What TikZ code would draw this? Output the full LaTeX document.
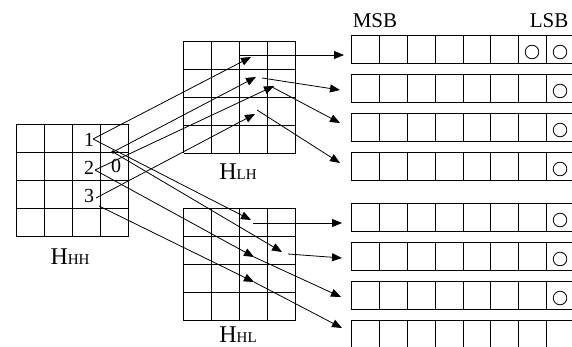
\documentclass[tikz,border=0pt]{standalone}
\usepackage{fontspec}
\setmainfont{Liberation Serif}
\usetikzlibrary{arrows.meta}

\tikzset{
  gridline/.style={line width=1.1pt, black},
  link/.style={line width=0.8pt, black, -{Triangle[length=10pt,width=8pt]}},
  bitbox/.style={draw, line width=1.1pt, minimum width=224pt, minimum height=28pt,
                 inner sep=0pt, outer sep=0pt, anchor=north west},
  coeff/.style={font=\fontsize{20}{20}\selectfont, inner sep=0pt, anchor=base},
  bandlabel/.style={inner sep=0pt, anchor=base},
  endlabel/.style={font=\fontsize{21}{21}\selectfont, inner sep=0pt, anchor=base},
}

% band name: large H with two smaller capitals
\newcommand{\bandname}[2]{{\fontsize{24}{24}\selectfont H}{\fontsize{15}{15}\selectfont #1#2}}

\begin{document}
\begin{tikzpicture}[x=1pt, y=-1pt]
\useasboundingbox (0,0) rectangle (572,347);
\clip (0,0) rectangle (572,347);

% ---- 4x4 coefficient blocks ----
\foreach \i in {0,...,4} {
  \draw[gridline] (16.5+28*\i,124.5) -- (16.5+28*\i,236.5);
  \draw[gridline] (16.5,124.5+28*\i) -- (128.5,124.5+28*\i);
  \draw[gridline] (183.5+28*\i,41.5) -- (183.5+28*\i,153.5);
  \draw[gridline] (183.5,41.5+28*\i) -- (295.5,41.5+28*\i);
  \draw[gridline] (183.5+28*\i,208.5) -- (183.5+28*\i,320.5);
  \draw[gridline] (183.5,208.5+28*\i) -- (295.5,208.5+28*\i);
}

\node[bandlabel] (lhh) at (70,264) {\bandname{H}{H}};
\node[bandlabel] (llh) at (238,180) {\bandname{L}{H}};
\node[bandlabel] (lhl) at (238,342) {\bandname{H}{L}};

% coefficient labels in the HH block
\node[coeff] (n1) at (89,147) {1};
\node[coeff] (n2) at (89,175) {2};
\node[coeff] (n3) at (89,203) {3};
\node[coeff] (n0) at (116,173) {0};

% ---- bit rows ----
\foreach \r/\y in {1/35.5, 2/74.5, 3/113.5, 4/152.5, 5/203.5, 6/242.5, 7/281.5, 8/320.5} {
  \node[bitbox] (row\r) at (351.5,\y) {};
  \foreach \x in {379.5, 407.5, 435.5, 463.5, 490.5, 518.5, 546.5}
    \draw[gridline] (\x,\y) -- (\x,\y+28);
}
% marked bits
\foreach \r/\y in {1/35, 2/74, 3/113, 4/152, 5/203, 6/242, 7/281}
  \draw[line width=0.8pt] (560,\y+17) circle (6.8);
\draw[line width=0.8pt] (532,52) circle (6.8);

\node[endlabel] (msb) at (375,28) {MSB};
\node[endlabel] (lsb) at (549,28) {LSB};

% ---- connection points ----
\coordinate (c1) at (93,139);
\coordinate (c0) at (113,152);
\coordinate (c2) at (95,170);
\coordinate (c3u) at (96,198);
\coordinate (c3d) at (99,206);

\coordinate (a1) at (251,57);
\coordinate (a2) at (256,77);
\coordinate (a3) at (274,86);
\coordinate (a4) at (255,114);
\coordinate (b1) at (251,220);
\coordinate (b2) at (282,252);
\coordinate (b3) at (254,257);
\coordinate (b4) at (254,282);

\coordinate (s1) at (239,55);
\coordinate (s2) at (262,78);
\coordinate (s3) at (272,87);
\coordinate (s4) at (257,110);
\coordinate (t1) at (253,223);
\coordinate (t2) at (288,254);

\coordinate (r1) at (344,55);
\coordinate (r2) at (340,90);
\coordinate (r3) at (340,123);
\coordinate (r4) at (340,163);
\coordinate (r5) at (342,223);
\coordinate (r6) at (342,258);
\coordinate (r7) at (341,297);
\coordinate (r8) at (342,328);

\fill (c0) circle (1.8);

% HH -> LH
\draw[link] (c1) -- (a1);
\draw[link] (c0) -- (a2);
\draw[link] (c2) -- (a3);
\draw[link] (c3u) -- (a4);
% HH -> HL
\draw[link] (c1) -- (b1);
\draw[link] (c0) -- (b2);
\draw[link] (c2) -- (b3);
\draw[link] (c3d) -- (b4);

% sub-bands -> bit rows
\draw[link] (s1) -- (r1);
\draw[link] (s2) -- (r2);
\draw[link] (s3) -- (r3);
\draw[link] (s4) -- (r4);
\draw[link] (t1) -- (r5);
\draw[link] (t2) -- (r6);
\draw[link] (b3) -- (r7);
\draw[link] (b4) -- (r8);
\end{tikzpicture}
\end{document}
